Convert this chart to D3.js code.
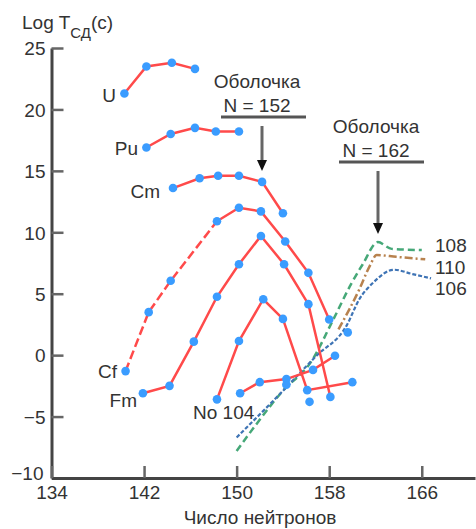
<!DOCTYPE html>
<html>
<head>
<meta charset="utf-8">
<script src="https://cdn.jsdelivr.net/npm/d3@7/dist/d3.min.js"></script>
<style>
    body { margin: 0; background: #fff; }
    svg text { font-family: "Liberation Sans", Arial, sans-serif; fill: #333; }
</style>
</head>
<body>
<svg id="chart" width="476" height="529"></svg>
<script>
// neutron number (N) and log T_sf for each measured element
var uN = [140.3, 142.2, 144.4, 146.4];
var uT = [21.3, 23.5, 23.8, 23.3];
var puN = [142.2, 144.3, 146.4, 148.2, 150.2];
var puT = [16.9, 18.0, 18.5, 18.2, 18.2];
var cmN = [144.5, 146.8, 148.4, 150.2, 152.2, 154.0];
var cmT = [13.6, 14.4, 14.6, 14.6, 14.1, 11.55];
var cfN = [140.4, 142.4, 144.3, 148.3, 150.2, 152.1, 154.2, 156.2, 158.0];
var cfT = [-1.3, 3.5, 6.05, 10.9, 12.0, 11.7, 9.25, 6.7, 2.9];
var fmN = [141.9, 144.2, 146.3, 148.3, 150.2, 152.1, 154.1, 156.2, 158.1];
var fmT = [-3.1, -2.5, 1.1, 4.75, 7.4, 9.7, 7.4, 4.15, -3.4];
var noN = [148.3, 150.2, 152.3, 154.0, 156.1, 160.0];
var noT = [-3.6, 1.15, 4.55, 2.95, -2.85, -2.2];
var z104N = [150.3, 152.0, 154.3, 156.6, 158.5];
var z104T = [-3.1, -2.2, -1.95, -1.2, -0.05];
var looseN = [154.3, 156.3, 159.6];
var looseT = [-2.4, -3.8, 1.85];

// predicted curves
var z108N = [150.0, 151.6, 153.9, 156.5, 158.3, 159.9, 160.9, 162.2, 163.4, 166.0];
var z108T = [-7.8, -5.75, -3.0, -0.45, 2.8, 5.8, 7.4, 9.2, 8.65, 8.55];
var z110N = [158.8, 160.6, 161.5, 162.1, 163.8, 166.3];
var z110T = [2.1, 5.35, 7.25, 8.15, 8.0, 7.8];
var z106N = [150.0, 153.7, 156.9, 159.5, 160.6, 161.8, 163.6, 165.2, 166.8];
var z106T = [-6.7, -3.2, -0.05, 2.4, 4.55, 5.9, 6.95, 6.6, 6.25];

var xTicks = [134, 142, 150, 158, 166];
var yTicks = [-10, -5, 0, 5, 10, 15, 20, 25];

var zip = function (ns, ts) {
    return ns.map(function (n, i) { return { n: n, t: ts[i] }; });
};

var svg = d3.select("#chart");
var x = d3.scaleLinear().domain([134, 170.6]).range([51.5, 475]);
var y = d3.scaleLinear().domain([-10, 25]).range([478, 48]);

var line = d3.line()
    .x(function (d) { return x(d.n); })
    .y(function (d) { return y(d.t); });
var smooth = d3.line()
    .curve(d3.curveMonotoneX)
    .x(function (d) { return x(d.n); })
    .y(function (d) { return y(d.t); });

// axes
var yAxis = svg.append("g")
    .attr("transform", "translate(" + x(134) + ",0)")
    .call(d3.axisLeft(y).tickValues(yTicks).tickSize(-12).tickSizeOuter(0).tickPadding(6));
var xAxis = svg.append("g")
    .attr("transform", "translate(0," + y(-10) + ")")
    .call(d3.axisBottom(x).tickValues(xTicks).tickSize(-12).tickSizeOuter(0).tickPadding(8));
[yAxis, xAxis].forEach(function (ax) {
    ax.select(".domain").attr("stroke", "#444").attr("stroke-width", 3);
    ax.selectAll(".tick line").attr("stroke", "#666").attr("stroke-width", 2.5);
    ax.selectAll(".tick text")
        .style("font-size", "19px")
        .style("fill", "#333");
});
yAxis.selectAll(".tick text").attr("dy", "0.36em");
// keep "-10" clear of "134" at the corner
yAxis.selectAll(".tick text").filter(function (d) { return d === -10; })
    .attr("dy", "0.1em").attr("x", -8);

// predicted lines
var preds = [
    { d: zip(z108N, z108T), color: "#46a878", dash: "7,4", w: 2.5 },
    { d: zip(z110N, z110T), color: "#b8824e", dash: "8,3,2,3", w: 2.5 },
    { d: zip(z106N, z106T), color: "#3f74b5", dash: "4,2", w: 2.2 }
];
preds.forEach(function (p) {
    svg.append("path")
        .attr("d", smooth(p.d))
        .attr("fill", "none")
        .attr("stroke", p.color)
        .attr("stroke-width", p.w)
        .attr("stroke-dasharray", p.dash);
});

// measured lines
var series = [zip(uN, uT), zip(puN, puT), zip(cmN, cmT), zip(fmN, fmT), zip(noN, noT), zip(z104N, z104T)];
var cf = zip(cfN, cfT);
var red = "#ff4a4a";
series.forEach(function (s) {
    svg.append("path")
        .attr("d", line(s))
        .attr("fill", "none")
        .attr("stroke", red)
        .attr("stroke-width", 2.5);
});
// Cf rising branch looks dashed in the original
svg.append("path")
    .attr("d", line(cf.slice(0, 4)))
    .attr("fill", "none")
    .attr("stroke", red)
    .attr("stroke-width", 2.5)
    .attr("stroke-dasharray", "9,4");
svg.append("path")
    .attr("d", line(cf.slice(3)))
    .attr("fill", "none")
    .attr("stroke", red)
    .attr("stroke-width", 2.5);

var dots = [].concat.apply([], series).concat(cf).concat(zip(looseN, looseT));
svg.append("g").selectAll("circle")
    .data(dots)
    .enter().append("circle")
    .attr("cx", function (d) { return x(d.n); })
    .attr("cy", function (d) { return y(d.t); })
    .attr("r", 4.3)
    .attr("fill", "#3a9cff");

// element labels
var labels = [
    { s: "U", x: 116, y: 102, a: "end" },
    { s: "Pu", x: 138, y: 155, a: "end" },
    { s: "Cm", x: 160, y: 198, a: "end" },
    { s: "Cf", x: 117, y: 378, a: "end" },
    { s: "Fm", x: 137, y: 407, a: "end" },
    { s: "No 104", x: 193, y: 419, a: "start" },
    { s: "108", x: 435, y: 252, a: "start" },
    { s: "110", x: 435, y: 274, a: "start" },
    { s: "106", x: 435, y: 295, a: "start" }
];
svg.append("g").selectAll("text")
    .data(labels)
    .enter().append("text")
    .attr("x", function (d) { return d.x; })
    .attr("y", function (d) { return d.y; })
    .attr("text-anchor", function (d) { return d.a; })
    .style("font-size", "19px")
    .text(function (d) { return d.s; });

// shell annotations
var shells = [
    { n: 152, cx: 257, ty: 88, uy: 117, x1: 221, x2: 306, ax: 262, a1: 126, a2: 171 },
    { n: 162, cx: 376, ty: 133, uy: 162, x1: 339, x2: 424, ax: 378, a1: 171, a2: 234 }
];
shells.forEach(function (s) {
    svg.append("text").attr("x", s.cx).attr("y", s.ty)
        .attr("text-anchor", "middle").style("font-size", "19px").text("Оболочка");
    svg.append("text").attr("x", s.cx).attr("y", s.ty + 24)
        .attr("text-anchor", "middle").style("font-size", "19px").text("N = " + s.n);
    svg.append("line").attr("x1", s.x1).attr("x2", s.x2).attr("y1", s.uy).attr("y2", s.uy)
        .attr("stroke", "#555").attr("stroke-width", 3);
    svg.append("line").attr("x1", s.ax).attr("x2", s.ax).attr("y1", s.a1).attr("y2", s.a2 - 8)
        .attr("stroke", "#666").attr("stroke-width", 3);
    svg.append("path")
        .attr("d", "M" + (s.ax - 5) + "," + (s.a2 - 11) + "L" + (s.ax + 5) + "," + (s.a2 - 11) + "L" + s.ax + "," + s.a2 + "Z")
        .attr("fill", "#111");
});

// axis titles
var yt = svg.append("text").attr("x", 22).attr("y", 29).style("font-size", "19px");
yt.append("tspan").text("Log T");
yt.append("tspan").attr("dy", 9).style("font-size", "15px").text("СД");
yt.append("tspan").attr("dy", -9).text("(с)");
svg.append("text").attr("x", 260).attr("y", 524)
    .attr("text-anchor", "middle").style("font-size", "19px").text("Число нейтронов");
</script>
</body>
</html>
